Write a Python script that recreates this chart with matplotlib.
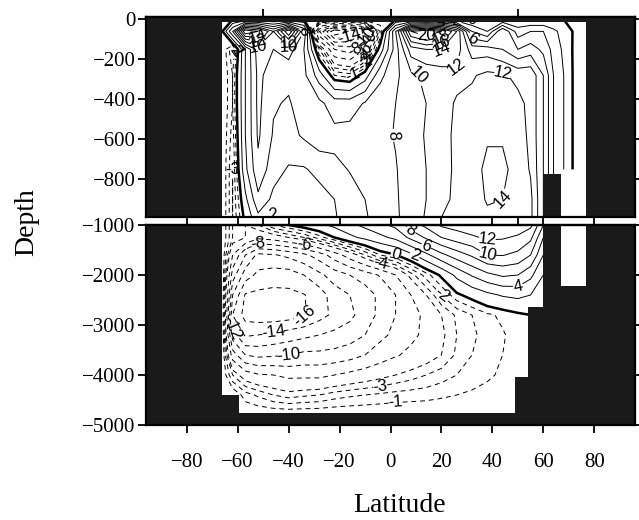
import numpy as np
import matplotlib.pyplot as plt

plt.rcParams['font.family'] = ['Liberation Sans', 'DejaVu Sans']

# overturning streamfunction (Sv), rows = depth, cols = latitude
lats = [-66, -62, -57, -52, -46, -40, -34, -28, -22, -16, -10, -4, 2, 8, 14,
        20, 26, 32, 38, 44, 50, 55, 60, 64, 68, 72, 77]
depths_upper = [0, -60, -150, -280, -420, -580, -750, -900, -990]
depths_deep = [-1000, -1250, -1600, -2000, -2400, -2800, -3200, -3600,
               -4000, -4400, -4800]
nan = np.nan
psi_upper = [
    [0] * 27,
    [0, 6, 18, 16, 10, 18, 8, -10, -18, -16, -12, -2, 8, 20, 22, 20, 14, 4, 2, 8, 3, 4, 4, 2.5, 1.2, -0.2, 0],
    [0, -3, 4, 9, 8, 9, 6, -2, -8, -9, -6, 1, 7, 13, 14, 14, 13, 9, 9, 8, 6, 7, 5.5, 3.3, 1.6, -0.3, 0],
    [0, -2, 4, 8.5, 7, 6.5, 6.5, 3, -1, -1.5, 1, 5.5, 7.5, 9.5, 10.5, 11, 11.5, 11.8, 12.5, 12.3, 11.5, 11.5, 8, 4, 2, -0.3, 0],
    [0, -2, 4, 8.5, 6.2, 5.8, 7, 6.5, 5, 5, 6.2, 7.3, 8, 9, 10, 11.3, 12.2, 12.5, 13, 13, 12.5, 11.5, 8, 4, 2, -0.3, 0],
    [0, -2.5, 4, 8.3, 5.8, 5.3, 6.3, 7.2, 6.6, 6.8, 7.2, 7.6, 8.1, 9, 10.2, 11.5, 12.3, 13, 13.8, 13.8, 13, 11.5, 8, 4, 2, -0.3, 0],
    [0, -3, 3.5, 7.5, 4.8, 3.8, 3.8, 4.6, 5.5, 6.1, 6.7, 7.3, 7.9, 8.8, 10, 11.4, 12.3, 13.3, 14.4, 14.4, 13.3, 11.8, 8, 4, 2, -0.3, 0],
    [0, -3, 1.5, 5.5, 3.5, 2.8, 2.8, 3.2, 4, 5.2, 6, 7, 7.8, 8.8, 10, 11.5, 12.4, 13.5, 14.1, 14.0, 13.5, 12.5, 8, 4, nan, nan, nan],
    [0, -3, 0.5, 3.5, 1.8, 2.2, 2.5, 3, 3.8, 5, 5.8, 6.8, 7.7, 8.9, 10.2, 12, 12.6, 13.3, 13.8, 13.7, 13.3, 12.5, 8, nan, nan, nan, nan],
]
psi_deep = [
    [0, -3, -4, -3, -1, 0, 0.8, 1.5, 2.5, 3.5, 4.5, 5.5, 6.5, 9, 10.5, 12.3, 12.8, 13.2, 13.6, 13.5, 13.2, 12.5, 8, nan, nan, nan, nan],
    [0, -3, -4, -5.5, -5, -4, -3, -1.5, 0, 1.5, 2.5, 3.5, 4.5, 6.5, 8.3, 10, 11, 11.7, 12.3, 12.2, 11.7, 10.5, 6, nan, nan, nan, nan],
    [0, -6, -10, -12.5, -12.2, -11.5, -10.5, -9, -7, -5, -3, -1, -0.1, 1.5, 3.5, 5.5, 7, 8.3, 10, 10.1, 9.5, 8, 4, nan, nan, nan, nan],
    [0, -9, -13, -14.5, -15, -15, -14, -12.5, -11, -10, -9, -7.8, -6, -3.5, -1.5, 0.3, 2.5, 4.2, 5.5, 6.3, 6, 4.5, 2, nan, nan, nan, nan],
    [0, -12, -16.2, -16.5, -16.6, -16.5, -16.1, -15, -13, -12, -11, -9.5, -8, -6, -4, -2, -0.3, 0.6, 1.5, 2.2, 2.5, 2, 1, nan, nan, nan, nan],
    [0, -14, -16.8, -17.2, -17.3, -17, -16.2, -14.8, -13.5, -12.5, -11, -9.5, -8, -6.8, -5.5, -4, -2.8, -2, -1.2, -0.8, -0.3, 0, 0, nan, nan, nan, nan],
    [0, -11, -14.3, -14, -13.5, -13, -12.5, -12, -11.5, -11, -10, -8.5, -7.5, -6.5, -5.5, -4.3, -3, -2.2, -1.6, -1.1, -0.6, 0, 0, nan, nan, nan, nan],
    [0, -7, -10, -10.5, -10.3, -10, -9.5, -9.5, -9.3, -8.8, -8, -7, -6.2, -5.5, -4.8, -4, -2.8, -2, -1.5, -1, -0.6, 0, 0, nan, nan, nan, nan],
    [0, -3, -5, -5.8, -6, -6.5, -6.5, -6.5, -6, -5.5, -5, -4.5, -4, -3.5, -3, -2.5, -2, -1.6, -1.2, -0.8, -0.4, 0, 0, nan, nan, nan, nan],
    [0, 0, -1.5, -2.2, -3, -3.5, -3.2, -3, -2.5, -2.2, -2, -1.8, -1.6, -1.5, -1.4, -1.2, -1, -0.8, -0.6, -0.4, 0, 0, 0, nan, nan, nan, nan],
    [0] * 23 + [nan] * 4,
]

levels = [-20, -18, -16, -14, -12, -10, -8, -6, -4, -3, -2, -1, 0,
          2, 4, 6, 8, 10, 12, 14, 16, 18, 20]

# topography: ocean floor depth in each latitude band (50 = land all the way up)
land_edges = [-96, -66.3, -59.3, 48.7, 53.9, 59.7, 66.9, 76.7, 96]
floor_depth = [50, -4400, -4767, -4047, -2633, -773, -2213, 50]

black = '#1a1a1a'

fig = plt.figure(figsize=(6.39, 5.2), dpi=100)
ax_top = fig.add_axes([0.2285, 0.5827, 0.7653, 0.3852])
ax_bot = fig.add_axes([0.2285, 0.1827, 0.7653, 0.3846])

widths = [1.8 if l == 0 else 0.7 for l in levels]
styles = [(0, (5, 4)) if l < 0 else 'solid' for l in levels]

for ax, depths, psi in ((ax_top, depths_upper, psi_upper),
                        (ax_bot, depths_deep, psi_deep)):
    X, Y = np.meshgrid(lats, depths)
    Z = np.ma.masked_invalid(np.array(psi, dtype=float))
    cs = ax.contour(X, Y, Z, levels=levels, colors='black',
                    linewidths=widths, linestyles=styles)
    ax.clabel(cs, fmt='%g', fontsize=12, inline=True, inline_spacing=2)
    ax.fill_between(land_edges, floor_depth + [floor_depth[-1]], -5100,
                    step='post', color=black, lw=0, zorder=4)
    ax.set_xlim(-96, 96)
    ax.set_xticks(range(-80, 81, 20))
    ax.tick_params(direction='out', length=6, width=1.3, labelsize=15,
                   right=True, labelfontfamily='Liberation Serif')
    ax.tick_params(axis='y', pad=1.5)
    ax.tick_params(axis='x', pad=14)
    for s in ax.spines.values():
        s.set_linewidth(1.6)
        s.set_zorder(5)
    sec = ax.secondary_xaxis('top')
    sec.set_xticks([-50, 0, 50])
    sec.tick_params(direction='out', length=6, width=1.3, labeltop=False)
    sec.spines['top'].set_linewidth(1.6)

ax_top.axhspan(-15, 50, color=black, lw=0, zorder=4)
ax_top.set_ylim(-988, 13.5)
ax_top.set_yticks([0, -200, -400, -600, -800])
ax_top.tick_params(labelbottom=False)

ax_bot.set_ylim(-5000, -1000)
ax_bot.set_yticks([-1000, -2000, -3000, -4000, -5000])

fig.text(400 / 639, 1 - 505 / 520, 'Latitude', ha='center', va='center',
         fontsize=20, family='Liberation Serif')
fig.text(27 / 639, 1 - 222 / 520, 'Depth', ha='center', va='center',
         rotation=90, fontsize=20, family='Liberation Serif')

fig.savefig('out.png', dpi=100)
